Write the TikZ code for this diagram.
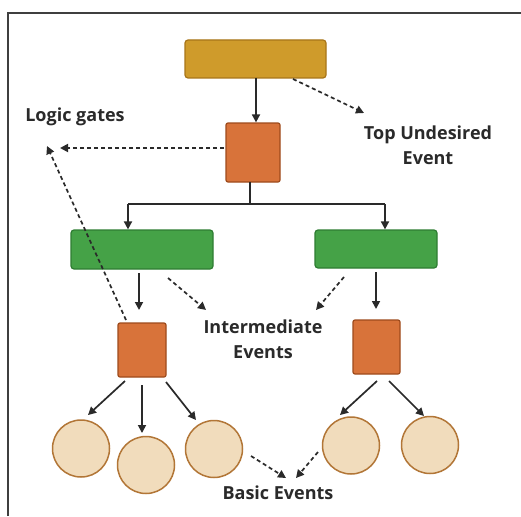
\documentclass[tikz,border=0pt]{standalone}
\usepackage{fontspec}
\setmainfont{Open Sans}
\usetikzlibrary{arrows.meta}
\definecolor{goldf}{HTML}{CF9B2B}
\definecolor{goldd}{HTML}{A87519}
\definecolor{orgf}{HTML}{D8733A}
\definecolor{orgd}{HTML}{9E4B1C}
\definecolor{grnf}{HTML}{45A247}
\definecolor{grnd}{HTML}{2E7D32}
\definecolor{basf}{HTML}{F1DCBC}
\definecolor{basd}{HTML}{B27637}
\definecolor{txt}{HTML}{2A2A2A}
\begin{document}
\begin{tikzpicture}[x=1pt,y=-1pt,
  box/.style={draw, line width=1.2pt, rounded corners=3pt, inner sep=0pt},
  topbox/.style={box, fill=goldf, draw=goldd, minimum width=141pt, minimum height=38pt},
  gate/.style={box, fill=orgf, draw=orgd, rounded corners=2pt},
  midbox/.style={box, fill=grnf, draw=grnd},
  basic/.style={circle, draw=basd, fill=basf, line width=1.5pt, minimum size=57pt, inner sep=0pt},
  lbl/.style={font=\fontsize{18}{25}\selectfont\bfseries, text=txt, align=center},
  arr/.style={draw=txt, line width=1.7pt, -{Triangle[length=8pt,width=8pt]}},
  darr/.style={arr, dash pattern=on 4pt off 3pt},
]
\useasboundingbox (0,0) rectangle (521,516);
\fill[white] (0,0) rectangle (521,516);
\draw[line width=2pt, draw=txt!90] (8,516) -- (8,13) -- (521,13);

% nodes
\node[topbox] (top) at (255.5,59) {};
\node[gate, minimum width=54pt, minimum height=59pt] (g1) at (253,152.5) {};
\node[midbox, minimum width=142pt, minimum height=39pt] (m1) at (142,249.5) {};
\node[midbox, minimum width=122pt, minimum height=38pt] (m2) at (376,249) {};
\node[gate, minimum width=48pt, minimum height=54pt] (g2) at (142,350) {};
\node[gate, minimum width=47pt, minimum height=54pt] (g3) at (376.5,347) {};
\node[basic] (b1) at (81,448.5) {};
\node[basic] (b2) at (146,465) {};
\node[basic] (b3) at (214,449) {};
\node[basic] (b4) at (351,445.5) {};
\node[basic] (b5) at (430,445) {};

\node[lbl] (lg) at (75,117) {Logic gates};
\node[lbl] (tue) at (428,145.5) {Top Undesired\\Event};
\node[lbl] (ie) at (263,339.5) {Intermediate\\Events};
\node[lbl] (be) at (278,493) {Basic Events};

% coordinates
\coordinate (t0) at (256,78);
\coordinate (g0) at (250,182);
\coordinate (j) at (250,204);
\coordinate (jl) at (128,204);
\coordinate (jr) at (385,204);
\coordinate (g1w) at (224,148);
\coordinate (lgA) at (60,148);
\coordinate (lgB) at (47,146);
\coordinate (m1o) at (139,273);
\coordinate (m1e) at (139,310);
\coordinate (m2o) at (376,272);
\coordinate (m2e) at (376,309);

% solid arrows
\draw[arr] (t0) -- (t0 |- g1.north);
\draw[draw=txt, line width=1.7pt] (g0) -- (j);
\draw[draw=txt, line width=1.7pt] (jl) -- (jr);
\draw[arr] (jl) -- (jl |- m1.north);
\draw[arr] (jr) -- (jr |- m2.north);
\draw[arr] (m1o) -- (m1e);
\draw[arr] (m2o) -- (m2e);
\draw[arr] (125,381) -- (88,415);
\draw[arr] (142,385) -- (142,433);
\draw[arr] (166,382) -- (196,420);
\draw[arr] (377,381) -- (340,415);
\draw[arr] (389,381) -- (424,416);

% dashed arrows
\draw[darr] (293,79) -- (364,113);
\draw[darr] (g1w) -- (lgA);
\draw[darr] (126,320) -- (lgB);
\draw[darr] (168,278) -- (206,310);
\draw[darr] (344,277) -- (316,310);
\draw[darr] (251,456) -- (286,478);
\draw[darr] (318,452) -- (296,478);
\end{tikzpicture}
\end{document}
